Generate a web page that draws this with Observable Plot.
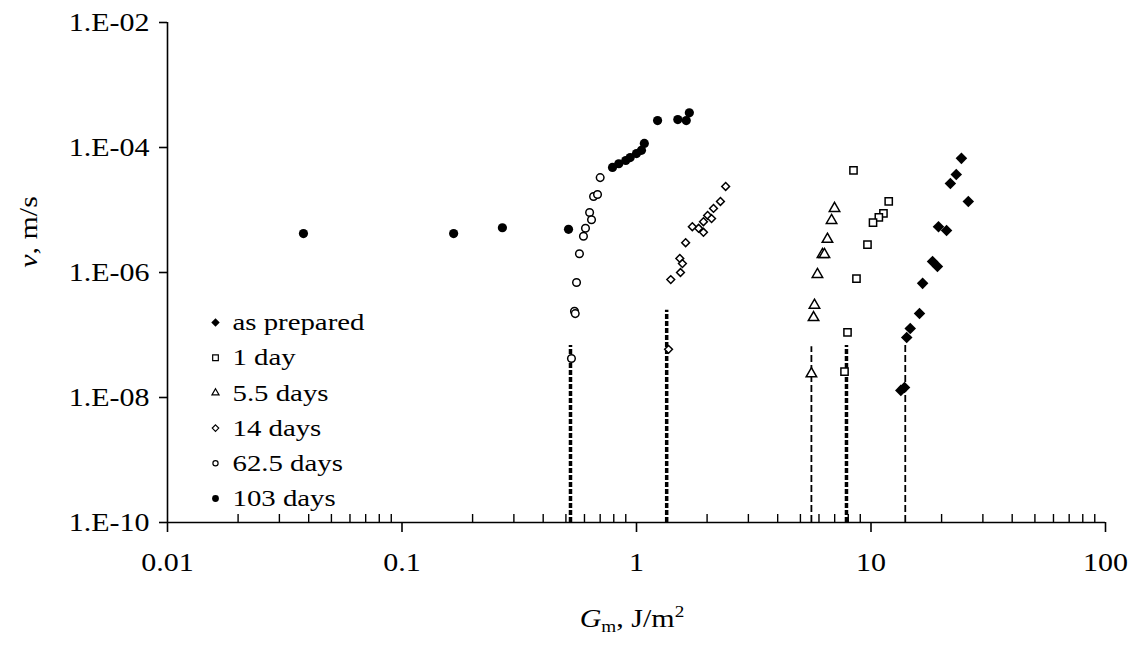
<!DOCTYPE html>
<html>
<head>
<meta charset="utf-8">
<script src="https://cdn.jsdelivr.net/npm/d3@7"></script>
<script src="https://cdn.jsdelivr.net/npm/@observablehq/plot@0.6"></script>
<style>
  body { margin: 0; background: #fff; }
  svg text { font-family: "Liberation Serif", "Times New Roman", serif; }
</style>
</head>
<body>
<div id="chart"></div>
<script>
// Crack velocity v (m/s) against mechanical energy release rate G_m (J/m²)
// for specimens aged for different times.
const preparedG = [24.3, 23.1, 21.8, 26.0, 19.4, 21.0, 18.3, 19.2, 16.6, 16.1, 14.7, 14.2, 13.9, 13.4];
const preparedV = [6.7e-5, 3.7e-5, 2.65e-5, 1.37e-5, 5.4e-6, 4.7e-6, 1.5e-6, 1.25e-6, 6.7e-7, 2.2e-7, 1.27e-7, 9.1e-8, 1.45e-8, 1.3e-8];

const day1G = [8.42, 11.9, 11.3, 10.8, 10.2, 9.66, 8.67, 7.94, 7.71];
const day1V = [4.3e-5, 1.37e-5, 8.8e-6, 7.6e-6, 6.3e-6, 2.8e-6, 8.0e-7, 1.1e-7, 2.6e-8];

const day55G = [6.99, 6.79, 6.52, 6.21, 6.33, 5.91, 5.74, 5.69, 5.57];
const day55V = [1.06e-5, 6.8e-6, 3.4e-6, 1.94e-6, 1.94e-6, 9.3e-7, 3.0e-7, 1.9e-7, 2.4e-8];

const day14G = [2.40, 2.28, 2.13, 2.01, 2.09, 1.93, 1.84, 1.73, 1.93, 1.62, 1.53, 1.57, 1.54, 1.40, 1.37];
const day14V = [2.38e-5, 1.37e-5, 1.06e-5, 8.2e-6, 7.3e-6, 6.5e-6, 5.1e-6, 5.4e-6, 4.4e-6, 3.0e-6, 1.68e-6, 1.39e-6, 1.0e-6, 7.7e-7, 5.9e-8];

const day625G = [0.70, 0.656, 0.682, 0.631, 0.643, 0.606, 0.594, 0.571, 0.555, 0.544, 0.548, 0.528];
const day625V = [3.3e-5, 1.64e-5, 1.77e-5, 9.1e-6, 7.0e-6, 5.1e-6, 3.8e-6, 2.0e-6, 6.9e-7, 2.4e-7, 2.2e-7, 4.2e-8];

const day103G = [0.038, 0.166, 0.268, 0.513, 0.79, 0.84, 0.90, 0.94, 1.0, 1.05, 1.08, 1.23, 1.50, 1.63, 1.68];
const day103V = [4.2e-6, 4.2e-6, 5.2e-6, 4.9e-6, 4.8e-5, 5.5e-5, 6.2e-5, 6.9e-5, 8.0e-5, 9.0e-5, 1.16e-4, 2.7e-4, 2.8e-4, 2.7e-4, 3.6e-4];

// Threshold G for each ageing time (vertical dashed lines) and where each line stops
const thresholdSeries = ["as prepared", "1 day", "5.5 days", "14 days", "62.5 days"];
const thresholdG = [14.0, 7.86, 5.57, 1.345, 0.523];
const thresholdTopV = [7.3e-8, 6.8e-8, 6.5e-8, 2.5e-7, 6.8e-8];

const seriesNames = ["as prepared", "1 day", "5.5 days", "14 days", "62.5 days", "103 days"];
const seriesG = [preparedG, day1G, day55G, day14G, day625G, day103G];
const seriesV = [preparedV, day1V, day55V, day14V, day625V, day103V];

// Axis ticks
const xTicks = [0.01, 0.1, 1, 10, 100];
const xMinorTicks = [0.01, 0.1, 1, 10].flatMap(d => [2, 3, 4, 5, 6, 7, 8, 9].map(k => +(d * k).toPrecision(3)));
const yTicks = [1e-2, 1e-4, 1e-6, 1e-8, 1e-10];

// Marker look of each series (plot size r, legend size lr)
const markerStyle = {
  "as prepared": {symbol: "diamond2", fill: "black", stroke: "none", strokeWidth: 0, r: 5.2, lr: 3.8},
  "1 day":       {symbol: "square2",  fill: "white", stroke: "black", strokeWidth: 1.5, r: 4.6, lr: 3.6},
  "5.5 days":    {symbol: "triangle2", fill: "white", stroke: "black", strokeWidth: 1.5, r: 5.0, lr: 3.4},
  "14 days":     {symbol: "diamond2", fill: "white", stroke: "black", strokeWidth: 1.5, r: 3.5, lr: 2.9},
  "62.5 days":   {symbol: "circle",   fill: "white", stroke: "black", strokeWidth: 1.5, r: 3.8, lr: 2.6},
  "103 days":    {symbol: "circle",   fill: "black", stroke: "none", strokeWidth: 0, r: 4.6, lr: 3.4}
};
const lineStyle = {
  thick: {strokeWidth: 3.5, strokeDasharray: "5,2"},
  thin:  {strokeWidth: 1.8, strokeDasharray: "7,3"}
};
const thresholdWeight = {"as prepared": "thin", "1 day": "thick", "5.5 days": "thin", "14 days": "thick", "62.5 days": "thick"};

const thresholds = thresholdSeries.map((s, i) => ({series: s, g: thresholdG[i], top: thresholdTopV[i]}));

const width = 1130, height = 647;
const margin = {top: 22, right: 25, bottom: 125, left: 167};
const frameH = height - margin.top - margin.bottom;
const fontFamily = "Liberation Serif";
const fontSize = 25;
const textWiden = 1.2;   // the typeface is set slightly wide

const marks = [];

// Dashed threshold lines
for (const w of ["thin", "thick"]) {
  marks.push(Plot.ruleX(thresholds.filter(d => thresholdWeight[d.series] === w), {
    x: "g", y1: 1e-10, y2: "top", stroke: "black", ...lineStyle[w]
  }));
}

// Axis lines
marks.push(Plot.ruleX([0.01], {stroke: "black", strokeWidth: 1.6}));
marks.push(Plot.ruleY([1e-10], {stroke: "black", strokeWidth: 1.6}));

// Minor x ticks point up into the plot, major ticks point down
marks.push(Plot.tickX(xMinorTicks, {x: d => d, insetTop: frameH - 8, stroke: "black", strokeWidth: 1.4}));
marks.push(Plot.axisX({
  ticks: xTicks, tickSize: 10, tickPadding: 21, strokeWidth: 1.6,
  tickFormat: d => String(d), fontSize, fontFamily, label: null
}));
marks.push(Plot.axisY({
  ticks: yTicks, tickSize: 8, tickPadding: 10, strokeWidth: 1.6,
  tickFormat: d => "1.E-" + String(Math.round(-Math.log10(d))).padStart(2, "0"),
  fontSize, fontFamily, label: null
}));

// Data points
seriesNames.forEach((name, k) => {
  const st = markerStyle[name];
  const pts = seriesG[k].map((g, i) => ({g, v: seriesV[k][i]}));
  marks.push(Plot.dot(pts, {
    x: "g", y: "v", symbol: st.symbol, r: st.r,
    fill: st.fill, stroke: st.stroke, strokeWidth: st.strokeWidth
  }));
});

// Legend inside the plot, lower left
seriesNames.forEach((name, i) => {
  const st = markerStyle[name];
  const dy = 300 + i * 35.2;
  marks.push(Plot.dot([name], {
    frameAnchor: "top-left", dx: 48, dy, symbol: st.symbol, r: st.lr,
    fill: st.fill, stroke: st.stroke, strokeWidth: st.strokeWidth ? 1.2 : 0
  }));
  marks.push(Plot.text([name], {
    frameAnchor: "top-left", dx: 65, dy, text: d => d,
    textAnchor: "start", lineAnchor: "middle", fontSize: 24, fontFamily, fill: "black"
  }));
});

const chart = Plot.plot({
  width, height,
  marginTop: margin.top, marginRight: margin.right,
  marginBottom: margin.bottom, marginLeft: margin.left,
  style: {fontFamily, fontSize: fontSize + "px", background: "white", color: "black", overflow: "visible"},
  x: {type: "log", domain: [0.01, 100]},
  y: {type: "log", domain: [1e-10, 1e-2]},
  marks
});

// Axis titles with italic symbols, subscript and superscript
const svg = d3.select(chart);
const yTitle = svg.append("text")
  .attr("transform", "translate(37,232) rotate(-90)")
  .attr("text-anchor", "middle")
  .attr("font-size", fontSize)
  .attr("fill", "black");
yTitle.append("tspan").attr("font-style", "italic").text("v");
yTitle.append("tspan").text(", m/s");

const xTitle = svg.append("text")
  .attr("x", 632).attr("y", 627)
  .attr("text-anchor", "middle")
  .attr("font-size", fontSize)
  .attr("fill", "black");
xTitle.append("tspan").attr("font-style", "italic").text("G");
xTitle.append("tspan").attr("font-size", 16).attr("dy", 5).text("m");
xTitle.append("tspan").attr("dy", -5).text(", J/m");
xTitle.append("tspan").attr("font-size", 16).attr("dy", -10).text("2");

document.getElementById("chart").appendChild(chart);

// Widen every label a little, keeping its anchor
chart.querySelectorAll("text").forEach(t => {
  const len = t.getComputedTextLength();
  if (len > 0) {
    t.setAttribute("textLength", (len * textWiden).toFixed(1));
    t.setAttribute("lengthAdjust", "spacingAndGlyphs");
  }
});
</script>
</body>
</html>
